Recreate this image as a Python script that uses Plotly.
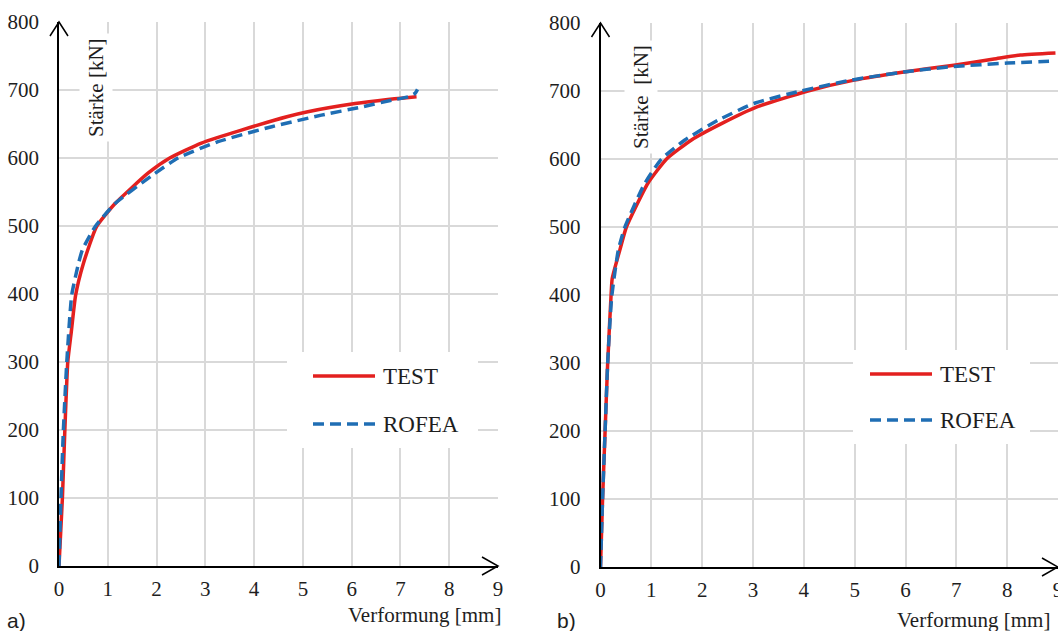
import plotly.graph_objects as go

W, H = 1058, 631

# ---------------- data ----------------
series_names = ["TEST", "ROFEA"]
x_ticks = [0, 1, 2, 3, 4, 5, 6, 7, 8, 9]
y_ticks = [0, 100, 200, 300, 400, 500, 600, 700, 800]
x_title = "Verformung [mm]"
y_title_a = "Stärke [kN]"
y_title_b = "Stärke\u00a0 [kN]"
panel_labels = ["a)", "b)"]

a_test_x = [0, 0.07, 0.12, 0.18, 0.25, 0.34, 0.50, 0.77, 1.15, 1.83, 2.27, 2.92, 3.74, 4.69, 5.10, 6.07, 6.74, 7.02, 7.33]
a_test_y = [0, 100, 200, 300, 343, 398, 445, 499, 533, 578, 600, 622, 641, 661, 668, 680, 686, 688, 690]
a_rofea_x = [0, 0.04, 0.09, 0.16, 0.26, 0.40, 0.48, 0.74, 1.15, 1.90, 2.44, 3.26, 4.36, 5.38, 6.20, 6.82, 7.16, 7.30, 7.35]
a_rofea_y = [0, 100, 200, 300, 398, 445, 465, 499, 533, 574, 600, 624, 646, 663, 675, 685, 690, 695, 701]

b_test_x = [0, 0.04, 0.09, 0.14, 0.206, 0.23, 0.38, 0.51, 0.93, 1.30, 1.79, 2.38, 3.09, 4.08, 4.99, 5.97, 6.95, 7.74, 8.26, 8.95]
b_test_y = [0, 98, 199, 298, 397, 424, 466, 500, 564, 600, 628, 652, 677, 700, 716, 728, 738, 747, 753, 756]
b_rofea_x = [0, 0.04, 0.09, 0.14, 0.22, 0.35, 0.48, 0.87, 1.20, 1.66, 2.31, 3.03, 3.94, 4.93, 5.97, 6.95, 8.0, 8.95]
b_rofea_y = [0, 98, 199, 298, 397, 466, 500, 564, 600, 628, 657, 682, 700, 716, 728, 736, 741, 744]

# ---------------- styles ----------------
RED = "#E3201F"
BLUE = "#1F6EB4"
GRID = "#D9D9D9"
TXT = "#1e1e1e"
SERIF = "Liberation Serif"
SANS = "Liberation Sans"


def px(x):
    return x / W


def py(y):
    return 1 - y / H


fig = go.Figure()

test_line = dict(color=RED, width=3.5)
rofea_line = dict(color=BLUE, width=3.5, dash="11px,6px")

fig.add_trace(go.Scatter(x=a_test_x, y=a_test_y, mode="lines", name=series_names[0],
                         line=dict(**test_line, shape="spline", smoothing=0.5),
                         xaxis="x", yaxis="y", showlegend=False))
fig.add_trace(go.Scatter(x=a_rofea_x, y=a_rofea_y, mode="lines", name=series_names[1],
                         line=dict(**rofea_line, shape="spline", smoothing=0.5),
                         xaxis="x", yaxis="y", showlegend=False))
fig.add_trace(go.Scatter(x=b_test_x, y=b_test_y, mode="lines", name=series_names[0],
                         line=dict(**test_line, shape="spline", smoothing=0.5),
                         xaxis="x2", yaxis="y2", showlegend=False))
fig.add_trace(go.Scatter(x=b_rofea_x, y=b_rofea_y, mode="lines", name=series_names[1],
                         line=dict(**rofea_line, shape="spline", smoothing=0.5),
                         xaxis="x2", yaxis="y2", showlegend=False))

xcommon = dict(range=[0, 9], tickvals=x_ticks, showgrid=True, gridcolor=GRID, gridwidth=1.5,
               zeroline=False, showline=True, linecolor="black", linewidth=1.5,
               ticks="", ticklabelstandoff=3, automargin=False, ticklabeloverflow="allow",
               tickfont=dict(family=SERIF, size=21, color=TXT))
ycommon = dict(range=[0, 800], tickvals=y_ticks, showgrid=True, gridcolor=GRID, gridwidth=1.5,
               zeroline=False, showline=True, linecolor="black", linewidth=1.5,
               ticks="", ticklabelstandoff=14, automargin=False,
               tickfont=dict(family=SERIF, size=21, color=TXT))

fig.update_layout(
    width=W, height=H,
    margin=dict(l=0, r=0, t=0, b=0),
    paper_bgcolor="white", plot_bgcolor="white",
    font=dict(family=SERIF, size=21, color=TXT),
    xaxis=dict(domain=[px(59), px(498)], anchor="y", **xcommon),
    yaxis=dict(domain=[py(566), py(22)], anchor="x", **ycommon),
    xaxis2=dict(domain=[px(600.5), 1.0], anchor="y2", **xcommon),
    yaxis2=dict(domain=[py(567), py(23)], anchor="x2", **ycommon),
    showlegend=False,
)

shapes = []
annotations = []

# axis arrow heads (open chevrons)
for xr, yr in [("x", "y"), ("x2", "y2")]:
    shapes.append(dict(type="path", xref=f"{xr} domain", yref=f"{yr} domain",
                       xsizemode="pixel", ysizemode="pixel", xanchor=0, yanchor=1,
                       path="M-9,-14 L0,0 L9,-14", line=dict(color="black", width=1.5),
                       layer="above"))
    shapes.append(dict(type="path", xref=f"{xr} domain", yref=f"{yr} domain",
                       xsizemode="pixel", ysizemode="pixel", xanchor=1, yanchor=0,
                       path="M-16,9 L0,0 L-16,-9", line=dict(color="black", width=1.5),
                       layer="above"))

# manual legends (white box, samples, labels)
legend_specs = [
    dict(box=(287, 352, 478, 448), x0=313, x1=375, ys=(376, 424), tx=381),
    dict(box=(853, 350, 1030, 444), x0=870, x1=932, ys=(374, 420), tx=938),
]
for spec in legend_specs:
    bx0, by0, bx1, by1 = spec["box"]
    shapes.append(dict(type="rect", xref="paper", yref="paper",
                       x0=px(bx0), x1=px(bx1), y0=py(by1), y1=py(by0),
                       fillcolor="white", line=dict(width=0), layer="above"))
    for name, yy, ln in zip(series_names, spec["ys"], [test_line, rofea_line]):
        shapes.append(dict(type="line", xref="paper", yref="paper",
                           x0=px(spec["x0"]), x1=px(spec["x1"]), y0=py(yy), y1=py(yy),
                           line=ln, layer="above"))
        annotations.append(dict(text=name, xref="paper", yref="paper", x=px(spec["tx"]), y=py(yy),
                                xanchor="left", yanchor="middle", showarrow=False,
                                font=dict(family=SERIF, size=23, color=TXT)))

# y-axis titles (inside plot, white background)
annotations.append(dict(text=y_title_a, xref="paper", yref="paper", x=px(96), y=py(88),
                        xanchor="center", yanchor="middle",
                        textangle=-90, showarrow=False, bgcolor="white", borderpad=4,
                        font=dict(family=SERIF, size=21, color=TXT)))
annotations.append(dict(text=y_title_b, xref="paper", yref="paper", x=px(641), y=py(97),
                        xanchor="center", yanchor="middle",
                        textangle=-90, showarrow=False, bgcolor="white", borderpad=4,
                        font=dict(family=SERIF, size=21, color=TXT)))

# x-axis titles
annotations.append(dict(text=x_title, xref="paper", yref="paper", x=px(503), y=py(615),
                        xanchor="right", yanchor="middle", showarrow=False,
                        font=dict(family=SERIF, size=21, color=TXT)))
annotations.append(dict(text=x_title, xref="paper", yref="paper", x=px(1052), y=py(620),
                        xanchor="right", yanchor="middle", showarrow=False,
                        font=dict(family=SERIF, size=21, color=TXT)))

# panel labels
annotations.append(dict(text=panel_labels[0], xref="paper", yref="paper", x=px(5), y=py(620),
                        xanchor="left", yanchor="middle", showarrow=False,
                        font=dict(family=SANS, size=21, color=TXT)))
annotations.append(dict(text=panel_labels[1], xref="paper", yref="paper", x=px(555), y=py(620),
                        xanchor="left", yanchor="middle", showarrow=False,
                        font=dict(family=SANS, size=21, color=TXT)))

fig.update_layout(shapes=shapes, annotations=annotations)

fig.write_html("out.html")
